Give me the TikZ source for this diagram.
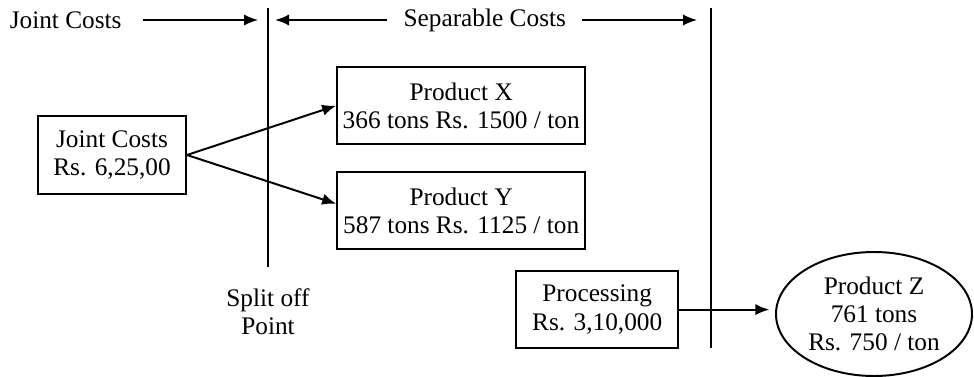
\documentclass[tikz,border=0pt]{standalone}
\usepackage{fontspec}
\setmainfont{Liberation Serif}
\usepackage{tikz}
\usetikzlibrary{shapes.geometric,arrows.meta,positioning,calc}

\begin{document}
\begin{tikzpicture}[every node/.style={font=\fontsize{18}{20}\selectfont, align=center},
  costbox/.style={draw, line width=1.4pt, minimum height=1.93cm, inner sep=2pt},
  flow/.style={line width=1.4pt, -{Latex[length=10pt,width=8pt]}},
  divider/.style={line width=1.1pt}]
  \useasboundingbox (0,0) rectangle (24.35,9.4);
  % Header
  \node[anchor=west] (hjoint) at (0.12,8.9) {Joint Costs};
  \node (hsep) at (12.12,8.9) {Separable Costs};
  \coordinate (split top) at (6.7,9.2);
  \coordinate (split bot) at (6.7,2.73);
  \coordinate (sep top) at (17.78,9.2);
  \coordinate (sep bot) at (17.78,0.7);
  % Boxes
  \node[costbox, minimum width=3.7cm] (jc) at (2.8,5.525) {Joint Costs\\Rs. 6,25,00};
  \node[costbox, minimum width=6.2cm] (px) at (11.53,6.76) {Product X\\366 tons Rs. 1500 / ton};
  \node[costbox, minimum width=6.2cm] (py) at (11.53,4.13) {Product Y\\587 tons Rs. 1125 / ton};
  \node[costbox, minimum width=4.05cm] (proc) at (14.93,1.66) {Processing\\Rs. 3,10,000};
  \node[draw, ellipse, line width=1.4pt, minimum width=4.9cm, minimum height=3.1cm, inner sep=0pt] (pz) at (21.85,1.55) {Product Z\\761 tons\\Rs. 750 / ton};
  \node (splitoff) at (6.7,1.6) {Split off\\Point};
  % Dividers
  \draw[divider] (split top) -- (split bot);
  \draw[divider] (sep top) -- (sep bot);
  % Header arrows
  \draw[flow] ([xshift=12pt]hjoint.east) -- ([xshift=-7pt]hjoint.east -| split top);
  \draw[flow] ([xshift=-8pt]hsep.west) -- ([xshift=5pt]hsep.west -| split top);
  \draw[flow] ([xshift=8pt]hsep.east) -- ([xshift=-10pt]hsep.east -| sep top);
  % Flows
  \draw[flow] (jc.east) -- (px.west);
  \draw[flow] (jc.east) -- ([yshift=5pt]py.west);
  \draw[flow] (proc.east) -- ([xshift=-4pt]proc.east -| pz.west);
\end{tikzpicture}
\end{document}
